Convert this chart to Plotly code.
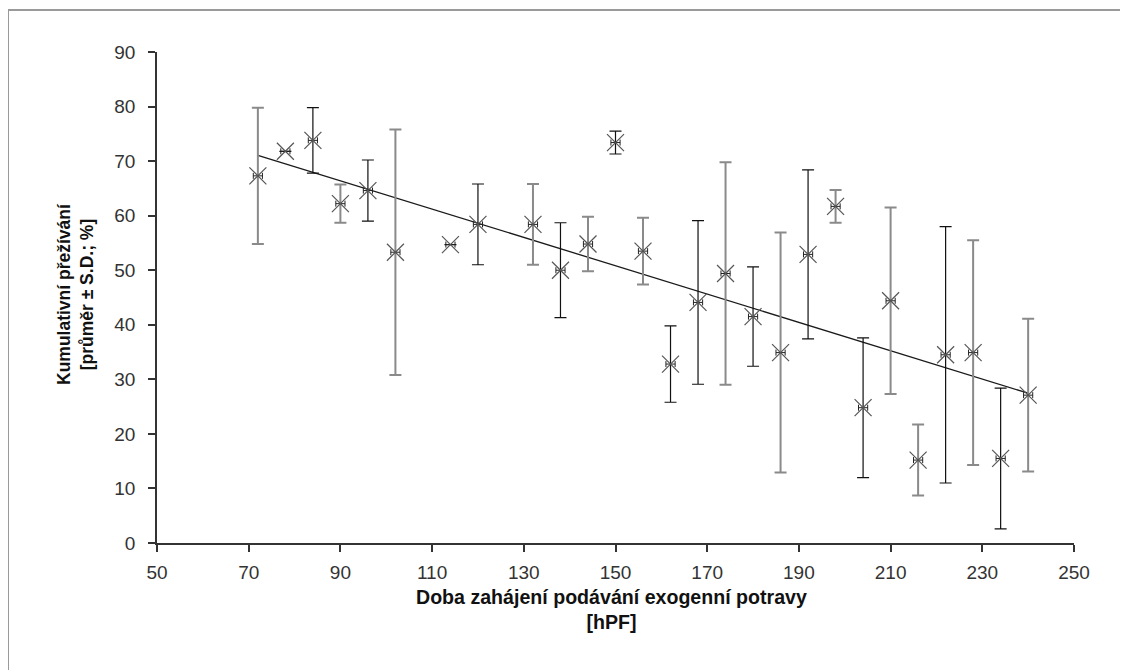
import numpy as np
import plotly.graph_objects as go

# ---- data ----
start_time_hpf = [72, 78, 84, 90, 96, 102, 114, 120, 132, 138, 144, 150, 156, 162,
                  168, 174, 180, 186, 192, 198, 204, 210, 216, 222, 228, 234, 240]
survival_mean = [67.3, 71.8, 73.8, 62.2, 64.6, 53.3, 54.7, 58.4, 58.4, 50.0, 54.8, 73.4, 53.5, 32.8,
                 44.1, 49.4, 41.5, 34.9, 52.9, 61.7, 24.8, 44.4, 15.2, 34.5, 34.9, 15.5, 27.1]
survival_sd = [12.5, 0.0, 6.0, 3.5, 5.6, 22.5, 0.0, 7.4, 7.4, 8.7, 5.0, 2.1, 6.1, 7.0,
               15.0, 20.4, 9.1, 22.0, 15.5, 3.0, 12.8, 17.1, 6.5, 23.5, 20.6, 12.9, 14.0]
x_ticks = [50, 70, 90, 110, 130, 150, 170, 190, 210, 230, 250]
y_ticks = [0, 10, 20, 30, 40, 50, 60, 70, 80, 90]

# error bars in the reference render either as thin black or soft grey lines
grey_bar = [1, 0, 0, 1, 0, 1, 0, 0, 1, 0, 1, 0, 1, 0,
            0, 1, 0, 1, 0, 1, 0, 1, 1, 0, 1, 0, 1]

# the page body adds an 8px offset; positions below are given in page pixels
OFF = 8
W, H = 1128, 670
ML, MR, MT, MB = 157 - OFF, 62, 52 - OFF, 135
PW, PH = W - ML - MR, H - MT - MB

fig = go.Figure()

# linear trend (least squares fit of the plotted means)
slope, intercept = np.polyfit(start_time_hpf, survival_mean, 1)
tx = [min(start_time_hpf), max(start_time_hpf)]
fig.add_trace(go.Scatter(x=tx, y=[slope * v + intercept for v in tx], mode="lines",
                         line=dict(color="#1a1a1a", width=1.3), hoverinfo="skip",
                         showlegend=False))

for flag, col, wid in [(1, "#8a8a8a", 2.0), (0, "#111111", 1.2)]:
    xs = [x for x, g in zip(start_time_hpf, grey_bar) if g == flag]
    ys = [y for y, g in zip(survival_mean, grey_bar) if g == flag]
    es = [e for e, g in zip(survival_sd, grey_bar) if g == flag]
    fig.add_trace(go.Scatter(
        x=xs, y=ys, mode="markers",
        marker=dict(symbol="x-thin-open", size=15, color="rgba(0,0,0,0)",
                    line=dict(color="rgba(0,0,0,0)", width=0)),
        error_y=dict(type="data", array=es, visible=True, color=col,
                     thickness=wid, width=6),
        showlegend=False, hoverinfo="skip"))

# points: grey X marker with small horizontal bar ("H" look)
fig.add_trace(go.Scatter(
    x=start_time_hpf, y=survival_mean, mode="markers",
    marker=dict(symbol="x-thin-open", size=17, color="#555555",
                line=dict(color="#555555", width=1.2)),
    error_x=dict(type="constant", value=1.0, visible=True, color="#222222",
                 thickness=1, width=3),
    showlegend=False,
    hovertemplate="%{x} hPF: %{y}%<extra></extra>"))

font_ticks = dict(family="Liberation Sans, Arial, sans-serif", size=19, color="#333333")
font_xtitle = dict(family="Liberation Sans, Arial, sans-serif", size=19.6, color="#111111")
font_ytitle = dict(family="Liberation Sans, Arial, sans-serif", size=17.5, color="#111111")

fig.update_xaxes(range=[50, 250], tickvals=x_ticks, ticktext=[str(v) for v in x_ticks],
                 showgrid=False, zeroline=False, showline=True, linecolor="#333333",
                 linewidth=1.5, ticks="outside", ticklen=7, tickcolor="#333333",
                 tickwidth=1.5, tickfont=font_ticks, ticklabelstandoff=4)
fig.update_yaxes(range=[0, 90], tickvals=y_ticks, ticktext=[str(v) for v in y_ticks],
                 showgrid=False, zeroline=False, showline=True, linecolor="#333333",
                 linewidth=1.5, ticks="outside", ticklen=7, tickcolor="#333333",
                 tickwidth=1.5, tickfont=font_ticks, ticklabelstandoff=9)

def px_x(p):
    return (p - OFF - ML) / PW

def px_y(p):
    return (H - MB - (p - OFF)) / PH

annotations = [
    dict(text="<b>Doba zahájení podávání exogenní potravy</b><br><b>[hPF]</b>",
         x=px_x(611), y=px_y(609), xref="paper", yref="paper", showarrow=False,
         font=font_xtitle, align="center", xanchor="center", yanchor="middle"),
    dict(text="<b>Kumulativní přežívání</b><br><b>[průměr ± S.D.; %]</b>",
         x=px_x(75), y=px_y(294), xref="paper", yref="paper", showarrow=False,
         font=font_ytitle, align="center", textangle=-90,
         xanchor="center", yanchor="middle"),
]

shapes = [
    dict(type="line", xref="paper", yref="paper", x0=px_x(8), x1=px_x(1150),
         y0=px_y(10), y1=px_y(10), line=dict(color="#9a9a9a", width=2)),
    dict(type="line", xref="paper", yref="paper", x0=px_x(8), x1=px_x(8),
         y0=px_y(10), y1=px_y(700), line=dict(color="#9a9a9a", width=2)),
]

fig.update_layout(width=W, height=H, margin=dict(l=ML, r=MR, t=MT, b=MB),
                  paper_bgcolor="white", plot_bgcolor="white",
                  annotations=annotations, shapes=shapes, showlegend=False)

fig.write_html("out.html")
